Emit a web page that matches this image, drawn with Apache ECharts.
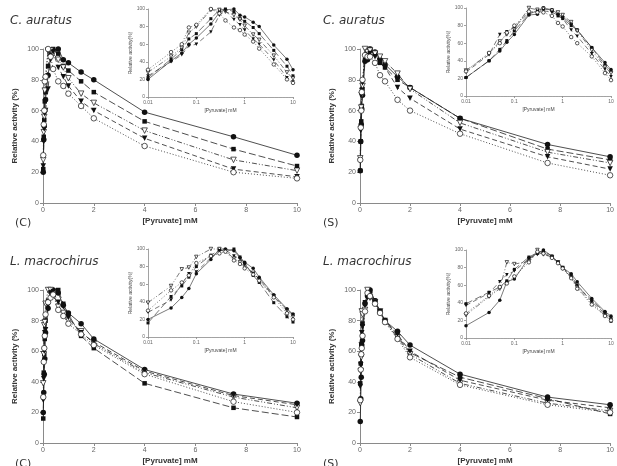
<!DOCTYPE html>
<html>
<head>
<meta charset="utf-8">
<script src="https://cdn.jsdelivr.net/npm/echarts@6/dist/echarts.min.js"></script>
<style>
  html, body { margin: 0; padding: 0; background: #fff; }
  #main { width: 617px; height: 466px; }
</style>
</head>
<body>
<div id="main"></div>
<script>
// [Pyruvate] mM
const conc = [0.01, 0.03, 0.05, 0.07, 0.1, 0.2, 0.3, 0.4, 0.6, 0.8, 1, 1.5, 2, 4, 7.5, 10];

// C. auratus (C)
const caC_fCircle = [20, 41, 50, 60, 67, 83, 96, 99, 100, 93, 91, 85, 80, 59, 43, 31];
const caC_fSquare = [22, 43, 54, 66, 72, 89, 99, 100, 97, 89, 86, 79, 72, 53, 35, 24];
const caC_oTri    = [28, 46, 56, 73, 80, 99, 99, 97, 93, 88, 81, 71, 65, 47, 28, 21];
const caC_fTri    = [24, 40, 48, 58, 60, 74, 93, 98, 88, 82, 76, 66, 60, 42, 22, 17];
const caC_oCircle = [31, 51, 60, 79, 82, 100, 95, 87, 79, 76, 71, 63, 55, 37, 20, 16];

// C. auratus (S)
const caS_fCircle = [21, 40, 51, 61, 70, 92, 93, 100, 98, 93, 90, 82, 75, 55, 38, 30];
const caS_fSquare = [21, 40, 53, 63, 74, 93, 97, 100, 97, 91, 88, 80, 75, 55, 35, 28];
const caS_oTri    = [29, 48, 62, 70, 76, 100, 98, 99, 97, 95, 92, 84, 74, 52, 33, 26];
const caS_fTri    = [27, 47, 70, 73, 78, 95, 96, 97, 95, 92, 88, 75, 68, 48, 30, 22];
const caS_oCircle = [28, 49, 60, 72, 80, 96, 95, 95, 91, 83, 79, 67, 60, 45, 26, 18];

// L. macrochirus (C)
const lmC_fCircle = [20, 33, 45, 55, 72, 88, 100, 100, 98, 90, 85, 78, 68, 48, 32, 26];
const lmC_fSquare = [16, 46, 58, 68, 80, 93, 99, 97, 100, 91, 84, 70, 62, 39, 23, 17];
const lmC_oTri    = [39, 58, 77, 79, 91, 100, 100, 98, 89, 85, 80, 73, 65, 46, 30, 23];
const lmC_fTri    = [28, 42, 60, 72, 74, 90, 98, 99, 92, 89, 82, 72, 66, 47, 31, 25];
const lmC_oCircle = [30, 53, 62, 70, 84, 92, 95, 97, 87, 83, 78, 71, 64, 45, 27, 20];

// L. macrochirus (S)
const lmS_fCircle = [14, 29, 43, 64, 67, 91, 96, 100, 93, 86, 80, 73, 64, 45, 30, 25];
const lmS_fSquare = [39, 52, 58, 65, 78, 92, 97, 99, 93, 86, 80, 70, 59, 43, 29, 19];
const lmS_oTri    = [26, 47, 56, 86, 84, 87, 100, 95, 92, 86, 79, 69, 58, 39, 26, 21];
const lmS_fTri    = [37, 51, 64, 72, 76, 90, 95, 97, 92, 86, 80, 71, 60, 41, 28, 23];
const lmS_oCircle = [28, 48, 58, 62, 70, 86, 98, 96, 91, 85, 79, 68, 56, 38, 25, 20];

const species = ['C. auratus', 'C. auratus', 'L. macrochirus', 'L. macrochirus'];
const panelTags = ['(C)', '(S)', '(C)', '(S)'];

const panels = [
  [caC_fCircle, caC_fSquare, caC_oTri, caC_fTri, caC_oCircle],
  [caS_fCircle, caS_fSquare, caS_oTri, caS_fTri, caS_oCircle],
  [lmC_fCircle, lmC_fSquare, lmC_oTri, lmC_fTri, lmC_oCircle],
  [lmS_fCircle, lmS_fSquare, lmS_oTri, lmS_fTri, lmS_oCircle]
];

// marker / line style per curve
const styles = [
  { symbol: 'circle', rotate: 0, fill: '#111', dash: 'solid' },
  { symbol: 'rect', rotate: 0, fill: '#111', dash: [7, 3] },
  { symbol: 'triangle', rotate: 180, fill: '#fff', dash: [5, 2, 1, 2, 1, 2] },
  { symbol: 'triangle', rotate: 180, fill: '#111', dash: [5, 3] },
  { symbol: 'circle', rotate: 0, fill: '#fff', dash: [1, 2] }
];

const mainGrids = [
  { left: 43, top: 49, width: 254, height: 154 },
  { left: 360, top: 49, width: 254, height: 154 },
  { left: 43, top: 290, width: 254, height: 153 },
  { left: 360, top: 290, width: 254, height: 153 }
];
const insetGrids = [
  { left: 148, top: 9, width: 145, height: 88 },
  { left: 466, top: 8, width: 145, height: 88 },
  { left: 148, top: 249, width: 145, height: 88 },
  { left: 466, top: 250, width: 145, height: 88 }
];

const axisGray = '#8a8a8a';
const labelGray = '#666';
const font = 'Liberation Sans, Arial, sans-serif';

let xAxes = [], yAxes = [], series = [];

mainGrids.forEach(function (g, i) {
  xAxes.push({
    type: 'value', gridIndex: i, min: 0, max: 10, interval: 2,
    name: '[Pyruvate] mM', nameLocation: 'middle', nameGap: 14,
    nameTextStyle: { fontSize: 8, fontWeight: 'bold', color: '#333', fontFamily: font },
    axisLine: { lineStyle: { color: axisGray } },
    axisTick: { length: 3, lineStyle: { color: axisGray } },
    axisLabel: { fontSize: 7, color: labelGray, margin: 4, fontFamily: font },
    splitLine: { show: false }
  });
  yAxes.push({
    type: 'value', gridIndex: i, min: 0, max: 100, interval: 20,
    name: 'Relative activity (%)', nameLocation: 'middle', nameGap: 24,
    nameTextStyle: { fontSize: 8, fontWeight: 'bold', color: '#333', fontFamily: font },
    axisLine: { show: true, lineStyle: { color: axisGray } },
    axisTick: { show: true, length: 3, lineStyle: { color: axisGray } },
    axisLabel: { fontSize: 7, color: labelGray, margin: 4, fontFamily: font },
    splitLine: { show: false }
  });
});

insetGrids.forEach(function (g, i) {
  xAxes.push({
    type: 'log', logBase: 10, gridIndex: i + 4, min: 0.01, max: 10,
    name: '[Pyruvate] mM', nameLocation: 'middle', nameGap: 11,
    nameTextStyle: { fontSize: 5, color: '#444', fontFamily: font },
    axisLine: { lineStyle: { color: axisGray, width: 0.8 } },
    axisTick: { length: 2, lineStyle: { color: axisGray, width: 0.8 } },
    minorTick: { show: true, splitNumber: 9, length: 1, lineStyle: { color: '#aaa', width: 0.5 } },
    axisLabel: { fontSize: 5, color: labelGray, margin: 3, fontFamily: font },
    splitLine: { show: false }
  });
  yAxes.push({
    type: 'value', gridIndex: i + 4, min: 0, max: 100, interval: 20,
    name: 'Relative activity(%)', nameLocation: 'middle', nameGap: 14,
    nameTextStyle: { fontSize: 5, color: '#444', fontFamily: font },
    axisLine: { show: true, lineStyle: { color: axisGray, width: 0.8 } },
    axisTick: { show: true, length: 2, lineStyle: { color: axisGray, width: 0.8 } },
    axisLabel: { fontSize: 5, color: labelGray, margin: 3, fontFamily: font },
    splitLine: { show: false }
  });
});

function makeSeries(axisIdx, vals, st, small) {
  return {
    type: 'line',
    xAxisIndex: axisIdx, yAxisIndex: axisIdx,
    data: conc.map(function (x, k) { return [x, vals[k]]; }),
    symbol: st.symbol,
    symbolRotate: st.rotate,
    symbolSize: small ? (st.symbol === 'rect' ? 3 : 3.5) : (st.symbol === 'rect' ? 4.5 : 5.5),
    clip: false,
    lineStyle: { color: '#222', width: small ? 0.6 : 0.8, type: st.dash },
    itemStyle: { color: st.fill, borderColor: '#111', borderWidth: st.fill === '#fff' ? 0.7 : 0 },
    emphasis: { disabled: true },
    silent: true
  };
}

panels.forEach(function (curves, p) {
  curves.forEach(function (vals, c) {
    series.push(makeSeries(p, vals, styles[c], false));
    series.push(makeSeries(p + 4, vals, styles[c], true));
  });
});

const titles = [];
const titlePos = [[5, 10], [318, 10], [5, 251], [318, 251]];
const tagPos = [[10, 213], [318, 213], [10, 454], [318, 454]];
species.forEach(function (s, i) {
  titles.push({
    text: s, left: titlePos[i][0], top: titlePos[i][1],
    textStyle: { fontSize: 12, fontStyle: 'italic', fontWeight: 'normal', color: '#333', fontFamily: 'DejaVu Sans, sans-serif' }
  });
  titles.push({
    text: panelTags[i], left: tagPos[i][0], top: tagPos[i][1],
    textStyle: { fontSize: 11, fontWeight: 'normal', color: '#333', fontFamily: 'DejaVu Sans, sans-serif' }
  });
});

const chart = echarts.init(document.getElementById('main'), null, { renderer: 'canvas' });
chart.setOption({
  animation: false,
  backgroundColor: '#fff',
  title: titles,
  grid: mainGrids.concat(insetGrids),
  xAxis: xAxes,
  yAxis: yAxes,
  series: series
});
</script>
</body>
</html>
